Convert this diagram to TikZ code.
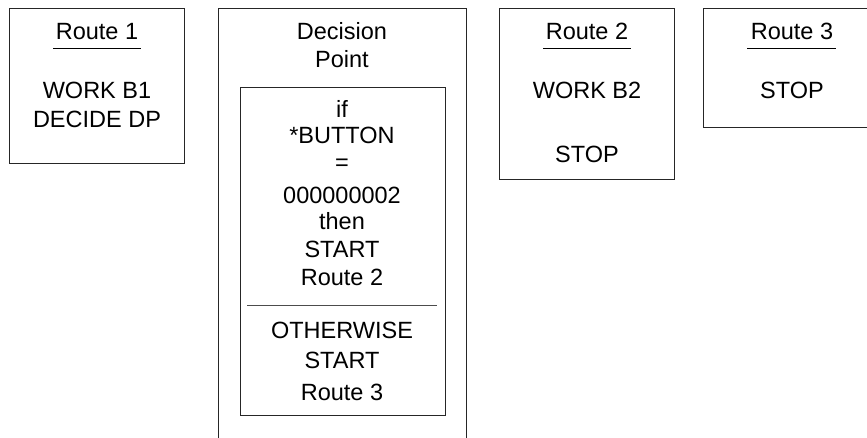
\documentclass[tikz,border=0pt]{standalone}
\usepackage{fontspec}
\setmainfont{Liberation Sans}
\begin{document}
\begin{tikzpicture}[x=1pt,y=-1pt,
  frame/.style={draw=black!85, line width=1pt},
  txt/.style={anchor=base, font=\fontsize{23.5}{28}\selectfont, inner sep=0pt},
  rule/.style={draw=black, line width=0.9pt}]
\useasboundingbox (0,0) rectangle (867,438);

% Route 1
\draw[frame] (9,9) rectangle (184,164);
\node[txt] (r1title) at (97,40) {Route 1};
\coordinate (r1ul) at (53,48);
\coordinate (r1ur) at (141,48);
\draw[rule] (r1ul) -- (r1ur);
\node[txt] (r1a) at (97,99) {WORK B1};
\node[txt] (r1b) at (97,128) {DECIDE DP};

% Decision Point (open at the bottom)
\coordinate (dpbl) at (218,440);
\coordinate (dptl) at (218,9);
\coordinate (dptr) at (466,9);
\coordinate (dpbr) at (466,440);
\draw[frame] (dpbl) -- (dptl) -- (dptr) -- (dpbr);
\node[txt] (dp1) at (342,40) {Decision};
\node[txt] (dp2) at (342,68) {Point};
\draw[frame] (240,88) rectangle (445,415);
\node[txt] (c1) at (342,118) {if};
\node[txt] (c2) at (342,144) {*BUTTON};
\node[txt] (c3) at (342,171) {=};
\node[txt] (c4) at (342,204) {000000002};
\node[txt] (c5) at (342,230) {then};
\node[txt] (c6) at (342,258) {START};
\node[txt] (c7) at (342,286) {Route 2};
\coordinate (divl) at (247,305);
\coordinate (divr) at (437,305);
\draw[rule, draw=black!70] (divl) -- (divr);
\node[txt] (c8) at (342,338) {OTHERWISE};
\node[txt] (c9) at (342,368) {START};
\node[txt] (c10) at (342,400) {Route 3};

% Route 2
\draw[frame] (499,9) rectangle (674,180);
\node[txt] (r2title) at (587,40) {Route 2};
\coordinate (r2ul) at (543,48);
\coordinate (r2ur) at (631,48);
\draw[rule] (r2ul) -- (r2ur);
\node[txt] (r2a) at (587,99) {WORK B2};
\node[txt] (r2b) at (587,163) {STOP};

% Route 3 (runs off the right edge)
\coordinate (r3tr) at (870,9);
\coordinate (r3tl) at (703,9);
\coordinate (r3bl) at (703,128);
\coordinate (r3br) at (870,128);
\draw[frame] (r3tr) -- (r3tl) -- (r3bl) -- (r3br);
\node[txt] (r3title) at (792,40) {Route 3};
\coordinate (r3ul) at (747,48);
\coordinate (r3ur) at (836,48);
\draw[rule] (r3ul) -- (r3ur);
\node[txt] (r3a) at (792,99) {STOP};
\end{tikzpicture}
\end{document}
